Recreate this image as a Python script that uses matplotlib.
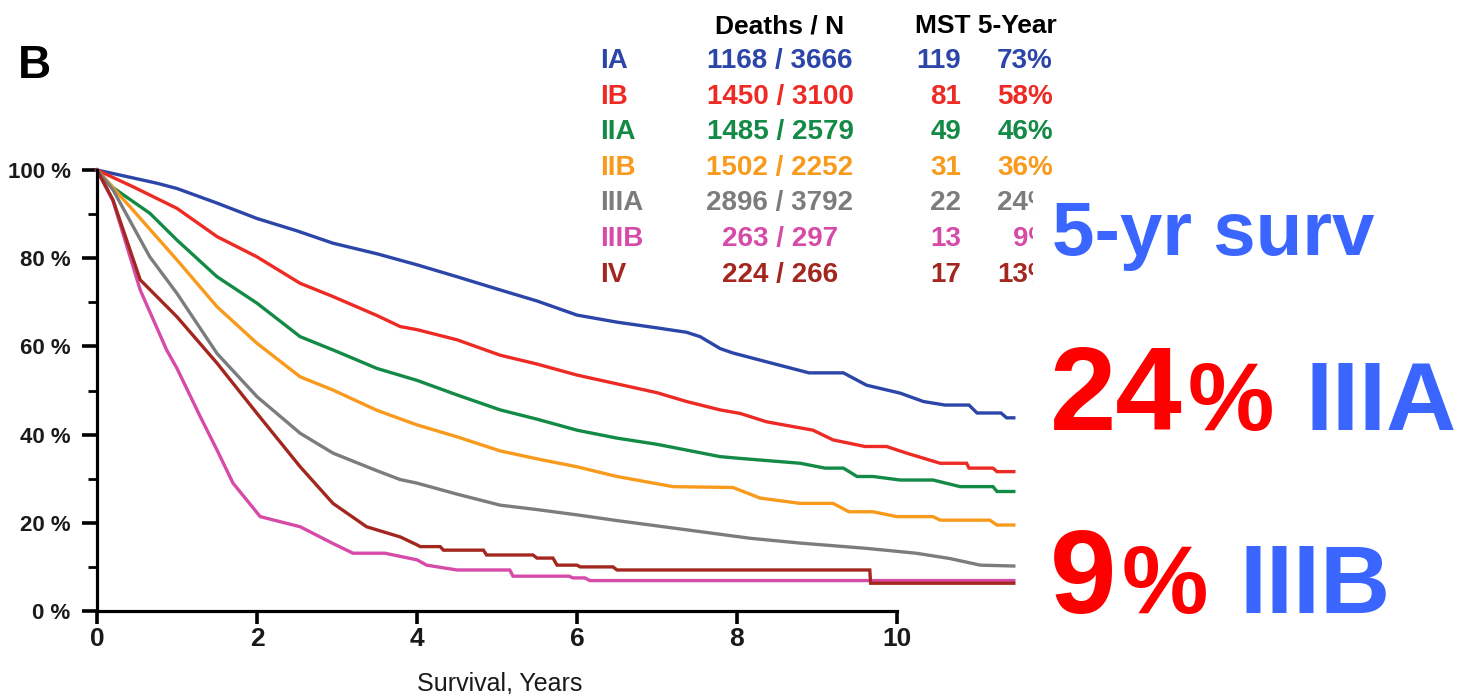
import matplotlib
matplotlib.use("Agg")
import matplotlib.pyplot as plt
from matplotlib.patches import Rectangle

# stages, table values and colours
stages = ["IA", "IB", "IIA", "IIB", "IIIA", "IIIB", "IV"]
deaths_n = ["1168 / 3666", "1450 / 3100", "1485 / 2579", "1502 / 2252",
            "2896 / 3792", "263 / 297", "224 / 266"]
mst = ["119", "81", "49", "31", "22", "13", "17"]
five_year = ["73%", "58%", "46%", "36%", "24%", "9%", "13%"]
colors = ["#2b45a8", "#ee2a24", "#138a45", "#f89a1c", "#7a7c7e", "#d64aa8", "#a3271f"]

# survival curves (years, % surviving)
ia_t = [0, 0.25, 0.75, 1.0, 1.5, 2.0, 2.5, 2.95, 3.5, 4.0, 4.5, 5.04, 5.5, 6.0, 6.5, 7.0,
        7.37, 7.54, 7.79, 7.95, 8.37, 8.9, 9.33, 9.62, 10.04, 10.33, 10.6, 10.9, 11.0,
        11.3, 11.37, 11.46]
ia_s = [100, 99, 97.0, 95.8, 92.5, 89.0, 86.2, 83.4, 81.0, 78.5, 75.8, 72.8, 70.3, 67.1,
        65.5, 64.2, 63.2, 62.2, 59.5, 58.5, 56.5, 54.0, 54.0, 51.2, 49.4, 47.5, 46.7, 46.7,
        44.9, 44.9, 43.8, 43.8]

ib_t = [0, 0.45, 1.0, 1.5, 2.0, 2.54, 2.95, 3.5, 3.79, 4.0, 4.5, 5.04, 5.5, 6.0, 6.5, 7.0,
        7.37, 7.79, 8.04, 8.37, 8.95, 9.2, 9.6, 9.87, 10.12, 10.54, 10.87, 10.9, 11.2,
        11.25, 11.46]
ib_s = [100, 96.2, 91.3, 84.9, 80.3, 74.3, 71.3, 67.0, 64.5, 63.8, 61.5, 58.0, 56.0, 53.5,
        51.5, 49.5, 47.5, 45.6, 44.8, 42.9, 41.0, 38.8, 37.3, 37.3, 35.8, 33.5, 33.5, 32.4,
        32.4, 31.6, 31.6]

iia_t = [0, 0.2, 0.66, 1.0, 1.5, 2.0, 2.54, 2.95, 3.5, 4.0, 4.5, 5.04, 5.5, 6.0, 6.5, 7.0,
         7.79, 8.04, 8.79, 9.1, 9.33, 9.5, 9.7, 10.04, 10.45, 10.79, 11.2, 11.25, 11.46]
iia_s = [100, 96.0, 90.2, 84.1, 75.8, 69.8, 62.2, 59.2, 55.0, 52.3, 49.0, 45.6, 43.5, 41.0,
         39.2, 37.8, 35.0, 34.6, 33.5, 32.4, 32.4, 30.5, 30.5, 29.7, 29.7, 28.2, 28.2,
         27.1, 27.1]

iib_t = [0, 0.45, 1.0, 1.5, 2.0, 2.54, 2.95, 3.5, 4.0, 4.5, 5.04, 5.5, 6.0, 6.5, 7.2, 7.95,
         8.29, 8.79, 9.2, 9.4, 9.7, 10.0, 10.45, 10.54, 11.16, 11.25, 11.46]
iib_s = [100, 90.9, 79.6, 69.0, 60.7, 53.1, 50.1, 45.5, 42.2, 39.5, 36.3, 34.5, 32.7, 30.5,
         28.2, 28.0, 25.6, 24.4, 24.4, 22.5, 22.5, 21.4, 21.4, 20.6, 20.6, 19.5, 19.5]

iiia_t = [0, 0.2, 0.66, 1.0, 1.5, 2.0, 2.54, 2.95, 3.5, 3.79, 4.0, 4.5, 5.04, 5.5, 6.0,
          6.5, 7.0, 7.54, 8.16, 8.79, 9.62, 10.24, 10.66, 11.04, 11.46]
iiia_s = [100, 95.5, 80.3, 72.0, 58.4, 48.6, 40.3, 35.8, 31.8, 29.8, 29.0, 26.5, 24.0,
          23.0, 21.8, 20.5, 19.3, 18.0, 16.5, 15.4, 14.2, 13.1, 11.9, 10.4, 10.2]

iiib_t = [0, 0.2, 0.54, 0.87, 1.0, 1.29, 1.5, 1.7, 2.04, 2.54, 2.95, 3.2, 3.6, 4.0, 4.12,
          4.5, 5.16, 5.2, 5.9, 5.95, 6.1, 6.16, 11.46]
iiib_s = [100, 93.0, 72.8, 59.2, 55.0, 44.1, 36.5, 29.0, 21.4, 19.1, 15.3, 13.1, 13.1,
          11.6, 10.4, 9.3, 9.3, 7.9, 7.9, 7.5, 7.5, 6.9, 6.9]

iv_t = [0, 0.2, 0.54, 1.0, 1.5, 2.0, 2.54, 2.95, 3.37, 3.79, 4.0, 4.04, 4.29, 4.33, 4.83,
        4.87, 5.45, 5.5, 5.7, 5.75, 6.0, 6.04, 6.45, 6.5, 9.66, 9.67, 11.46]
iv_s = [100, 93.2, 75.1, 66.7, 56.2, 44.8, 32.7, 24.4, 19.1, 16.8, 15.0, 14.6, 14.6, 13.8,
        13.8, 12.7, 12.7, 12.0, 12.0, 10.4, 10.4, 10.0, 10.0, 9.3, 9.3, 6.3, 6.3]

curves_t = [ia_t, ib_t, iia_t, iib_t, iiia_t, iiib_t, iv_t]
curves_s = [ia_s, ib_s, iia_s, iib_s, iiia_s, iiib_s, iv_s]

W, H = 1465, 694
fig = plt.figure(figsize=(W / 100, H / 100), dpi=100)


def fx(px):
    return px / W


def fy(py):
    return 1 - py / H


FONT = "Liberation Sans"
NARROW = ["Liberation Sans Narrow", "Liberation Sans"]

# plot area: year 0 at x=97, year 11.6 at x=1025; 0 % at y=611, 100 % at y=170
ax = fig.add_axes([fx(97), fy(611), fx(1025) - fx(97), fy(170) - fy(611)])
for t, s, c in zip(curves_t, curves_s, colors):
    ax.plot(t, s, color=c, lw=2.4, clip_on=False, solid_joinstyle="miter")

ax.set_xlim(0, 11.6)
ax.set_ylim(0, 100)
for side in ["top", "right"]:
    ax.spines[side].set_visible(False)
ax.spines["left"].set_bounds(0, 100)
ax.spines["bottom"].set_bounds(0, 10)
ax.spines["left"].set_linewidth(2.3)
ax.spines["bottom"].set_linewidth(2.3)

ax.set_xticks(range(0, 11, 2))
ax.set_yticks(range(0, 101, 20))
ax.set_yticks(range(10, 100, 20), minor=True)
ax.set_yticklabels([f"{v} %" for v in range(0, 101, 20)])
ax.tick_params(axis="y", which="major", length=11, width=2.6, pad=8)
ax.tick_params(axis="y", which="minor", length=6.5, width=2)
ax.tick_params(axis="x", which="major", length=9.5, width=2.6, pad=2)
for lab in ax.get_yticklabels():
    lab.set_fontfamily(NARROW)
    lab.set_fontweight("bold")
    lab.set_fontsize(16)
    lab.set_color("#1a1a1a")
for lab in ax.get_xticklabels():
    lab.set_fontfamily(NARROW)
    lab.set_fontweight("bold")
    lab.set_fontsize(19)
    lab.set_color("#1a1a1a")

ax.set_xlabel("Survival, Years", fontfamily=NARROW, fontsize=18, color="#1a1a1a")
ax.xaxis.set_label_coords((500 - 97) / 928, -(683 - 611) / 441)
ax.xaxis.label.set_va("center")

# panel letter
fig.text(fx(18), fy(78), "B", fontfamily=FONT, fontweight="bold", fontsize=33,
         va="baseline", ha="left")

# table in the upper right
fig.text(fx(780), fy(33), "Deaths / N", fontfamily=FONT, fontweight="bold", fontsize=19,
         ha="center", va="baseline")
fig.text(fx(986), fy(33), "MST 5-Year", fontfamily=FONT, fontweight="bold", fontsize=19,
         ha="center", va="baseline")
for i, st in enumerate(stages):
    base = fy(68 + 35.6 * i)
    kw = dict(fontfamily=FONT, fontweight="bold", fontsize=20, color=colors[i],
              va="baseline", zorder=3)
    fig.text(fx(600), base, st, ha="left", **kw)
    fig.text(fx(780), base, deaths_n[i], ha="center", **kw)
    fig.text(fx(961), base, mst[i], ha="right", **kw)
    fig.text(fx(1053), base, five_year[i], ha="right", **kw)

# white box of the slide annotation, covering the table's right edge
fig.patches.append(Rectangle((fx(1033), 0), 1 - fx(1033), fy(185), transform=fig.transFigure,
                             facecolor="white", edgecolor="none", zorder=5))

blue = "#3a66ff"
red = "#ff0000"
ann = dict(fontfamily=FONT, fontweight="bold", va="baseline", ha="left", zorder=6)
fig.text(fx(1052), fy(255), "5-yr surv", color=blue, fontsize=55, **ann)
fig.text(fx(1050), fy(430), "24", color=red, fontsize=86, **ann)
fig.text(fx(1188), fy(430), "%", color=red, fontsize=70, **ann)
fig.text(fx(1306), fy(430), "IIIA", color=blue, fontsize=70, **ann)
fig.text(fx(1050), fy(613), "9", color=red, fontsize=86, **ann)
fig.text(fx(1122), fy(613), "%", color=red, fontsize=70, **ann)
fig.text(fx(1240), fy(613), "IIIB", color=blue, fontsize=70, **ann)

fig.savefig("out.png", dpi=100, facecolor="white")
